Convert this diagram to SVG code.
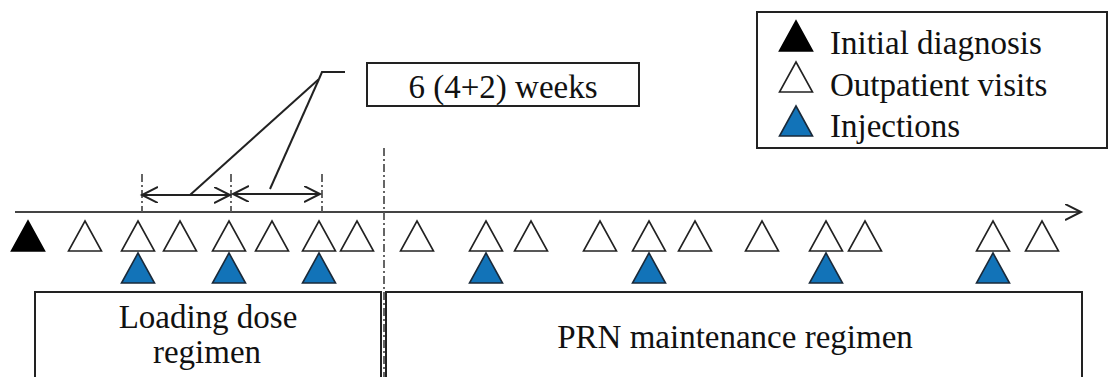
<svg xmlns="http://www.w3.org/2000/svg" width="1114" height="377" viewBox="0 0 1114 377">
<style>
.t{font-family:"Liberation Serif","Times New Roman",serif;font-size:33px;fill:#111}
.box{fill:#fff;stroke:#222;stroke-width:2}
.ln{fill:none;stroke:#222;stroke-width:2}
.dd{fill:none;stroke:#555;stroke-width:1.8;stroke-dasharray:8 3 2 3}
.wt{fill:#fff;stroke:#222;stroke-width:1.6}
.bt{fill:#1273b8;stroke:#1a2a3a;stroke-width:1.6}
.kt{fill:#000;stroke:#000;stroke-width:1.6}
</style>
<defs>
<path id="tri" d="M0,-15 L16.5,15 L-16.5,15 Z"/>
<marker id="chev" markerWidth="20" markerHeight="20" refX="16" refY="8" orient="auto-start-reverse" markerUnits="userSpaceOnUse">
<path d="M0,0 L16,8 L0,16" fill="none" stroke="#222" stroke-width="2"/>
</marker>
</defs>
<rect width="1114" height="377" fill="#fff"/>

<g id="connectors">
<line x1="15" y1="212" x2="1081" y2="212" stroke="#444" stroke-width="2" marker-end="url(#chev)"/>
<line class="dd" x1="384" y1="148" x2="384" y2="377"/>
<line class="dd" x1="142" y1="174" x2="142" y2="212"/>
<line class="dd" x1="231" y1="174" x2="231" y2="212"/>
<line class="dd" x1="322" y1="174" x2="322" y2="212"/>
<line class="ln" x1="142" y1="195" x2="230" y2="195" marker-start="url(#chev)" marker-end="url(#chev)"/>
<line class="ln" x1="233" y1="194" x2="320" y2="194" marker-start="url(#chev)" marker-end="url(#chev)"/>
<polyline class="ln" points="345,72 322,72 319,79"/>
<line class="ln" x1="319" y1="79" x2="190" y2="195"/>
<line class="ln" x1="319" y1="79" x2="270" y2="189"/>
</g>

<g id="legend">
<rect class="box" x="757" y="12" width="350" height="136"/>
<use href="#tri" class="kt" x="796" y="36"/>
<use href="#tri" class="wt" x="796" y="77"/>
<use href="#tri" class="bt" x="796" y="121"/>
<text class="t" x="830" y="54">Initial diagnosis</text>
<text class="t" x="830" y="96">Outpatient visits</text>
<text class="t" x="830" y="137">Injections</text>
</g>

<g id="weeks-label">
<rect class="box" x="367" y="63" width="272" height="43"/>
<text class="t" x="503" y="98" text-anchor="middle">6 (4+2) weeks</text>
</g>

<g id="diagnosis">
<use href="#tri" class="kt" x="28" y="236"/>
</g>

<g id="visits">
<use href="#tri" class="wt" x="85" y="236"/>
<use href="#tri" class="wt" x="138" y="236"/>
<use href="#tri" class="wt" x="180" y="236"/>
<use href="#tri" class="wt" x="229" y="236"/>
<use href="#tri" class="wt" x="272" y="236"/>
<use href="#tri" class="wt" x="319" y="236"/>
<use href="#tri" class="wt" x="357" y="236"/>
<use href="#tri" class="wt" x="417" y="236"/>
<use href="#tri" class="wt" x="486" y="236"/>
<use href="#tri" class="wt" x="531" y="236"/>
<use href="#tri" class="wt" x="600" y="236"/>
<use href="#tri" class="wt" x="649" y="236"/>
<use href="#tri" class="wt" x="695" y="236"/>
<use href="#tri" class="wt" x="762" y="236"/>
<use href="#tri" class="wt" x="826" y="236"/>
<use href="#tri" class="wt" x="865" y="236"/>
<use href="#tri" class="wt" x="993" y="236"/>
<use href="#tri" class="wt" x="1042" y="236"/>
</g>

<g id="injections">
<use href="#tri" class="bt" x="138" y="268"/>
<use href="#tri" class="bt" x="229" y="268"/>
<use href="#tri" class="bt" x="319" y="268"/>
<use href="#tri" class="bt" x="486" y="268"/>
<use href="#tri" class="bt" x="649" y="268"/>
<use href="#tri" class="bt" x="826" y="268"/>
<use href="#tri" class="bt" x="993" y="268"/>
</g>

<g id="loading-regimen">
<rect class="box" x="35" y="292" width="346" height="100"/>
<text class="t" x="208" y="328" text-anchor="middle">Loading dose</text>
<text class="t" x="207" y="363" text-anchor="middle">regimen</text>
</g>

<g id="prn-regimen">
<rect class="box" x="386" y="292" width="696" height="100"/>
<text class="t" x="735" y="348" text-anchor="middle">PRN maintenance regimen</text>
</g>
</svg>
